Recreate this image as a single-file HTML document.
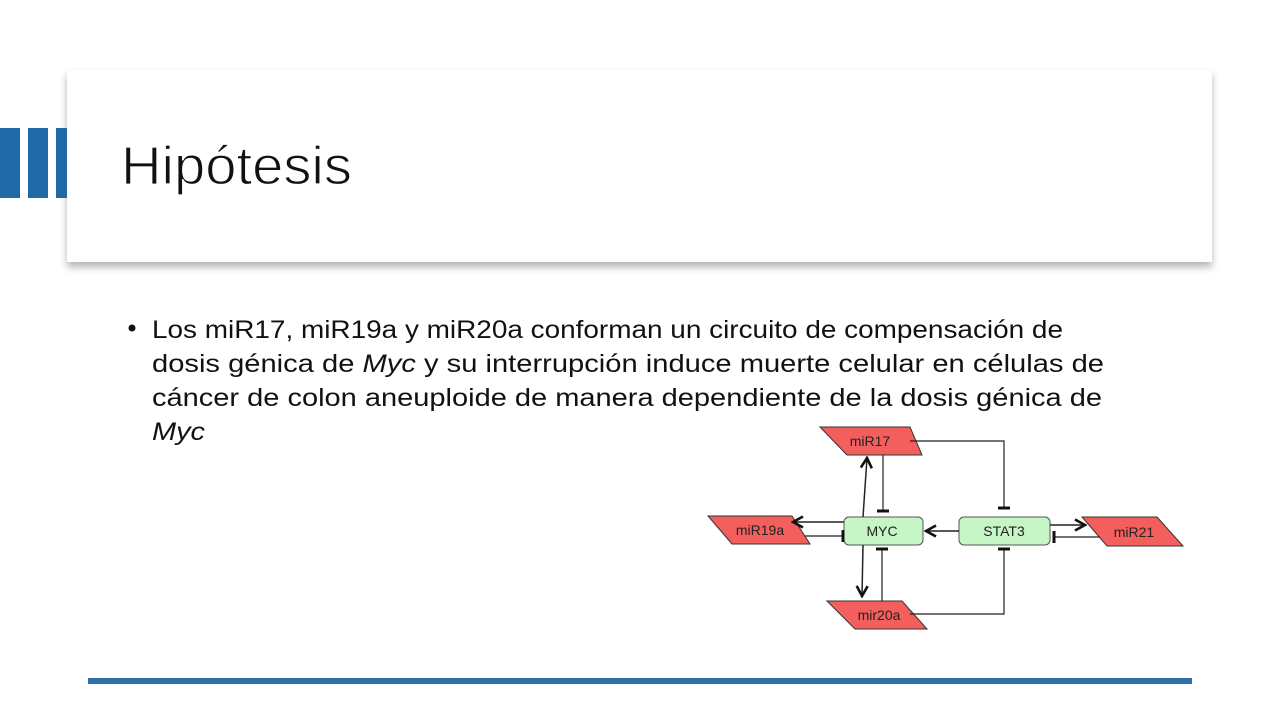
<!DOCTYPE html>
<html><head><meta charset="utf-8"><style>
html,body{margin:0;padding:0;background:#fff;}
svg{display:block;}
</style></head><body>
<svg width="1280" height="720" viewBox="0 0 1280 720" xmlns="http://www.w3.org/2000/svg" font-family="Liberation Sans, Arial, sans-serif">
<defs>
<filter id="sh" x="-5%" y="-10%" width="110%" height="130%">
<feGaussianBlur in="SourceAlpha" stdDeviation="4"/>
<feOffset dx="0" dy="5"/>
<feComponentTransfer><feFuncA type="linear" slope="0.3"/></feComponentTransfer>
<feMerge><feMergeNode/><feMergeNode in="SourceGraphic"/></feMerge>
</filter>
<marker id="ar" viewBox="0 0 14 14" refX="12" refY="7" markerWidth="14" markerHeight="14" markerUnits="userSpaceOnUse" orient="auto">
<path d="M2,1.5 L12,7 L2,12.5" fill="none" stroke="#111" stroke-width="2.6"/>
</marker>
</defs>
<rect width="1280" height="720" fill="#fff"/>
<rect x="67" y="70" width="1145" height="192" fill="#fff" filter="url(#sh)"/>
<rect x="0" y="128" width="20" height="70" fill="#1f6aa6"/>
<rect x="28" y="128" width="20" height="70" fill="#1f6aa6"/>
<rect x="56" y="128" width="11" height="70" fill="#1f6aa6"/>
<text x="121" y="184" font-size="54" fill="#111" stroke="#fff" stroke-width="1.2" paint-order="normal" textLength="231" lengthAdjust="spacingAndGlyphs">Hipótesis</text>

<g font-size="25" fill="#111">
<circle cx="132" cy="328" r="3.5" fill="#111"/>
<text x="152" y="338" textLength="911" lengthAdjust="spacingAndGlyphs">Los miR17, miR19a y miR20a conforman un circuito de compensación de</text>
<text x="152" y="372" textLength="952" lengthAdjust="spacingAndGlyphs">dosis génica de <tspan font-style="italic">Myc</tspan> y su interrupción induce muerte celular en células de</text>
<text x="152" y="406" textLength="950" lengthAdjust="spacingAndGlyphs">cáncer de colon aneuploide de manera dependiente de la dosis génica de</text>
<text x="152" y="440" font-style="italic" textLength="53" lengthAdjust="spacingAndGlyphs">Myc</text>
</g>

<rect x="88" y="678" width="1104" height="6" fill="#2e6fa8"/>

<g stroke="#333" stroke-width="1" fill="#f25f5c">
<polygon points="820,427 910,427 922,455 847,455"/>
<polygon points="708,516 792,516 810,544 732,544"/>
<polygon points="1082,517 1157,517 1183,546 1107,546"/>
<polygon points="827,601 902,601 927,629 855,629"/>
</g>
<g stroke="#555" stroke-width="1" fill="#c6f5c6">
<rect x="844" y="517" width="79" height="28" rx="5"/>
<rect x="959" y="517" width="91" height="28" rx="5"/>
</g>
<g font-size="14" fill="#222" text-anchor="middle">
<text x="870" y="446">miR17</text>
<text x="760" y="535">miR19a</text>
<text x="882" y="536">MYC</text>
<text x="1004" y="536">STAT3</text>
<text x="1134" y="537">miR21</text>
<text x="879" y="620">mir20a</text>
</g>
<g stroke="#222" stroke-width="1.2" fill="none">
<line x1="863" y1="517" x2="867" y2="458" marker-end="url(#ar)" stroke-width="1.5"/>
<line x1="883" y1="455" x2="883" y2="511"/>
<polyline points="910,441 1004,441 1004,508"/>
<line x1="844" y1="522" x2="793" y2="522" marker-end="url(#ar)" stroke-width="1.5"/>
<line x1="805" y1="536" x2="843" y2="536"/>
<line x1="959" y1="531" x2="926" y2="531" marker-end="url(#ar)" stroke-width="1.5"/>
<line x1="1050" y1="525" x2="1085" y2="525" marker-end="url(#ar)" stroke-width="1.5"/>
<line x1="1100" y1="537" x2="1054" y2="537"/>
<line x1="863" y1="545" x2="862" y2="596" marker-end="url(#ar)" stroke-width="1.5"/>
<line x1="882" y1="601" x2="882" y2="549"/>
<polyline points="910,614 1004,614 1004,549"/>
</g>
<g stroke="#111" stroke-width="3">
<line x1="877" y1="511" x2="889" y2="511"/>
<line x1="998" y1="508" x2="1010" y2="508"/>
<line x1="843" y1="530" x2="843" y2="542"/>
<line x1="1054" y1="531" x2="1054" y2="543"/>
<line x1="876" y1="549" x2="888" y2="549"/>
<line x1="998" y1="549" x2="1010" y2="549"/>
</g>
</svg>
</body></html>
